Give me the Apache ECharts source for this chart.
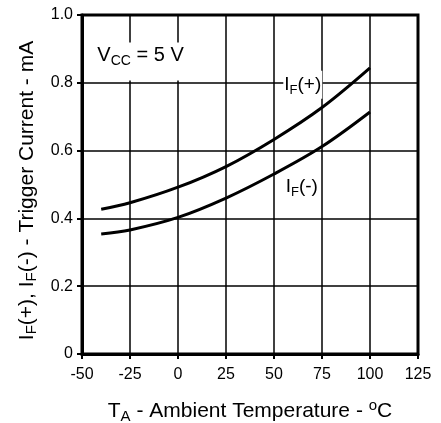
<!DOCTYPE html>
<html>
<head>
<meta charset="utf-8">
<script src="https://cdn.jsdelivr.net/npm/echarts@6/dist/echarts.min.js"></script>
<style>
  html, body { margin: 0; padding: 0; background: #fff; }
  #chart { width: 441px; height: 423px; }
</style>
</head>
<body>
<div id="chart"></div>
<script>
// temperatures (degC) and trigger currents (mA)
const temps = [-40, -25, 0, 25, 50, 75, 100];
const ifPlus = [0.427, 0.446, 0.492, 0.553, 0.633, 0.727, 0.844];
const ifMinus = [0.354, 0.366, 0.403, 0.46, 0.531, 0.612, 0.714];
const xTicks = [-50, 125, 25];   // min, max, step
const yTicks = [0, 1.0, 0.2];

const font = '"Liberation Sans", Arial, Helvetica, sans-serif';
function richSet(size) {
  const sub = Math.round(size * 0.7);
  return {
    n: { fontSize: size, lineHeight: size + 5, fontFamily: font, color: '#000' },
    s: { fontSize: sub, lineHeight: sub + 1, verticalAlign: 'bottom', fontFamily: font, color: '#000' },
    u: { fontSize: sub, lineHeight: sub + 1, verticalAlign: 'top', fontFamily: font, color: '#000' }
  };
}

function pairs(ys) {
  return temps.map((t, i) => [t, ys[i]]);
}

function note(text, coord, pad, size) {
  return {
    symbol: 'rect', symbolSize: 0,
    data: [{ coord: coord, value: '' }],
    label: {
      show: true, position: 'inside', formatter: text, rich: richSet(size || 19),
      backgroundColor: '#fff', padding: pad
    }
  };
}

const chart = echarts.init(document.getElementById('chart'));
chart.setOption({
  animation: false,
  grid: {
    left: 82, right: 23, top: 15, bottom: 69,
    outerBoundsMode: 'none', containLabel: false,
    show: true, borderColor: '#000', borderWidth: 3, backgroundColor: '#fff'
  },
  xAxis: {
    type: 'value', min: xTicks[0], max: xTicks[1], interval: xTicks[2],
    axisLine: { onZero: false, lineStyle: { color: '#000', width: 3 } },
    axisTick: { show: true, length: 5, lineStyle: { color: '#000', width: 2 } },
    axisLabel: { color: '#000', fontSize: 16, fontFamily: font, margin: 13 },
    splitLine: { show: true, lineStyle: { color: '#000', width: 1.5 } },
    name: '{n|T}{s|A}{n| - Ambient Temperature - }{u|o}{n|C}',
    nameLocation: 'middle', nameGap: 44,
    nameTextStyle: { rich: richSet(21) }
  },
  yAxis: {
    type: 'value', min: yTicks[0], max: yTicks[1], interval: yTicks[2],
    axisLine: { show: true, onZero: false, lineStyle: { color: '#000', width: 3 } },
    axisTick: { show: true, length: 5, lineStyle: { color: '#000', width: 2 } },
    axisLabel: {
      color: '#000', fontSize: 16, fontFamily: font, margin: 9,
      formatter: v => (v === 0 ? '0' : v.toFixed(1))
    },
    splitLine: { show: true, lineStyle: { color: '#000', width: 1.5 } },
    name: '{n|I}{s|F}{n|(+), I}{s|F}{n|(-) - Trigger Current - mA}',
    nameLocation: 'middle', nameGap: 37, nameRotate: 90,
    nameTextStyle: { rich: richSet(21), padding: [0, 12, 0, 0] }
  },
  series: [
    {
      type: 'line', data: pairs(ifPlus), smooth: 0.35, symbol: 'none',
      lineStyle: { color: '#000', width: 3 },
      markPoint: note('{n|I}{s|F}{n|(+)}', [65, 0.794], [2, 1, 2, 1])
    },
    {
      type: 'line', data: pairs(ifMinus), smooth: 0.35, symbol: 'none',
      lineStyle: { color: '#000', width: 3 },
      markPoint: note('{n|I}{s|F}{n|(-)}', [64.5, 0.493], [3, 1, 3, 1])
    },
    {
      type: 'line', data: [], symbol: 'none',
      markPoint: note('{n|V}{s|CC}{n| = 5 V}', [-19.5, 0.863], [1, 2, 12, 2], 20)
    }
  ]
});
</script>
</body>
</html>
